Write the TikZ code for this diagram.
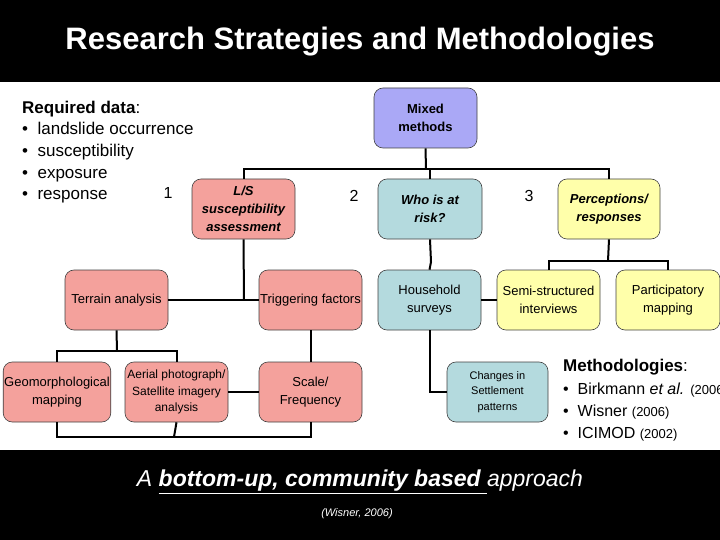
\documentclass[tikz,border=0pt]{standalone}
\usepackage{fontspec}
\setmainfont{Liberation Sans}
\definecolor{pinkbox}{HTML}{F4A19C}
\definecolor{purplebox}{HTML}{AAA8F6}
\definecolor{tealbox}{HTML}{B4DADE}
\definecolor{yellowbox}{HTML}{FFFFAA}
\newcommand{\fs}[1]{\fontsize{#1pt}{1.4\dimexpr #1pt\relax}\selectfont}
\begin{document}
\begin{tikzpicture}[x=1pt,y=-1pt,
  box/.style={draw=black!75,line width=0.6pt,rounded corners=9pt,inner sep=1pt,align=center,font=\fs{13}},
  conn/.style={line width=2pt,black},
  lbl/.style={inner sep=0pt,anchor=base west}]
\useasboundingbox (0,0) rectangle (720,540);
\begin{scope}
\clip (0,0) rectangle (720,540);
\fill[black] (0,0) rectangle (720,82);
\fill[black] (0,450) rectangle (720,540);
\node[text=white,font=\fs{31}\bfseries] (title) at (360,42) {Research Strategies and Methodologies};
% boxes
\node[box,fill=purplebox,minimum width=103pt,minimum height=60pt,font=\fs{13}\bfseries] (mm) at (425.5,118) {Mixed\\methods};
\node[box,fill=pinkbox,minimum width=103pt,minimum height=60pt,font=\fs{13}\bfseries\itshape] (ls) at (243.5,209) {L/S\\susceptibility\\assessment};
\node[box,fill=tealbox,minimum width=104pt,minimum height=60pt,font=\fs{13}\bfseries\itshape] (who) at (430,209) {Who is at\\risk?};
\node[box,fill=yellowbox,minimum width=102pt,minimum height=60pt,font=\fs{13}\bfseries\itshape] (per) at (609,209) {Perceptions/\\responses};
\node[box,fill=pinkbox,minimum width=103pt,minimum height=60pt] (ter) at (116.5,300) {Terrain analysis};
\node[box,fill=pinkbox,minimum width=103pt,minimum height=60pt] (trig) at (310.5,300) {Triggering factors};
\node[box,fill=tealbox,minimum width=103pt,minimum height=60pt] (hh) at (429.5,300) {Household\\surveys};
\node[box,fill=yellowbox,minimum width=103pt,minimum height=60pt] (semi) at (548.5,300) {Semi-structured\\interviews};
\node[box,fill=yellowbox,minimum width=104pt,minimum height=60pt] (part) at (668,300) {Participatory\\mapping};
\node[box,fill=pinkbox,minimum width=104pt,minimum height=60pt] (geo) at (57,392) {Geomorphological\\mapping};
\node[box,fill=pinkbox,minimum width=103pt,minimum height=60pt,font=\fs{12}] (aer) at (176.5,392) {Aerial photograph/\\Satellite imagery\\analysis};
\node[box,fill=pinkbox,minimum width=103pt,minimum height=60pt] (sca) at (310.5,392) {Scale/\\Frequency};
\node[box,fill=tealbox,minimum width=101pt,minimum height=60pt,font=\fs{11}] (chg) at (497.5,392) {Changes in\\Settlement\\patterns};
% connectors
\coordinate (top) at (426,169);
\draw[conn] (mm.south) -- (top);
\draw[conn] (ls.north) |- (top) -| (per.north);
\draw[conn] (who.north) -- (who.north |- top);
\draw[conn] (ls.south) -- (244,300);
\draw[conn] (ter.east) -- (trig.west);
\coordinate (tj) at (117,351);
\draw[conn] (ter.south) -- (tj);
\draw[conn] (geo.north) |- (tj) -| (aer.north);
\draw[conn] (trig.south) -- (sca.north);
\draw[conn] (aer.east) -- (sca.west);
\coordinate (bj) at (174,437);
\draw[conn] (geo.south) |- (bj) -| (sca.south);
\draw[conn] (aer.south) -- (bj);
\draw[conn] (who.south) -- (431,262) -- (hh.north);
\draw[conn] (hh.east) -- (semi.west);
\coordinate (pj) at (608,261);
\draw[conn] (per.south) -- (pj);
\draw[conn] (semi.north) |- (pj) -| (part.north);
\draw[conn] (hh.south) |- (chg.west);
% texts
\node[lbl,font=\fs{17}] (req) at (22,114) {\textbf{Required data}:};
\node[lbl,font=\fs{17}] (r1) at (22,135) {\textbullet\ \ landslide occurrence};
\node[lbl,font=\fs{17}] (r2) at (22,157) {\textbullet\ \ susceptibility};
\node[lbl,font=\fs{17}] (r3) at (22,179) {\textbullet\ \ exposure};
\node[lbl,font=\fs{17}] (r4) at (22,200) {\textbullet\ \ response};
\node[font=\fs{16}] (n1) at (168,193) {1};
\node[font=\fs{16}] (n2) at (354,196) {2};
\node[font=\fs{16}] (n3) at (529,196) {3};
\node[lbl,font=\fs{17}] (meth) at (563,371) {\textbf{Methodologies}:};
\node[lbl,font=\fs{16}] (m1) at (563,394) {\textbullet\ \ Birkmann \textit{et al.} {\fs{13}(2006)}};
\node[lbl,font=\fs{16}] (m2) at (563,416) {\textbullet\ \ Wisner {\fs{13}(2006)}};
\node[lbl,font=\fs{16}] (m3) at (563,438) {\textbullet\ \ ICIMOD {\fs{13}(2002)}};
\node[text=white,font=\fs{23}] (app) at (360,482) {\textit{A \underline{\textbf{bottom-up, community based }}approach}};
\node[text=white,font=\fs{11}\itshape] (cite) at (357,514) {(Wisner, 2006)};
\end{scope}
\end{tikzpicture}
\end{document}
